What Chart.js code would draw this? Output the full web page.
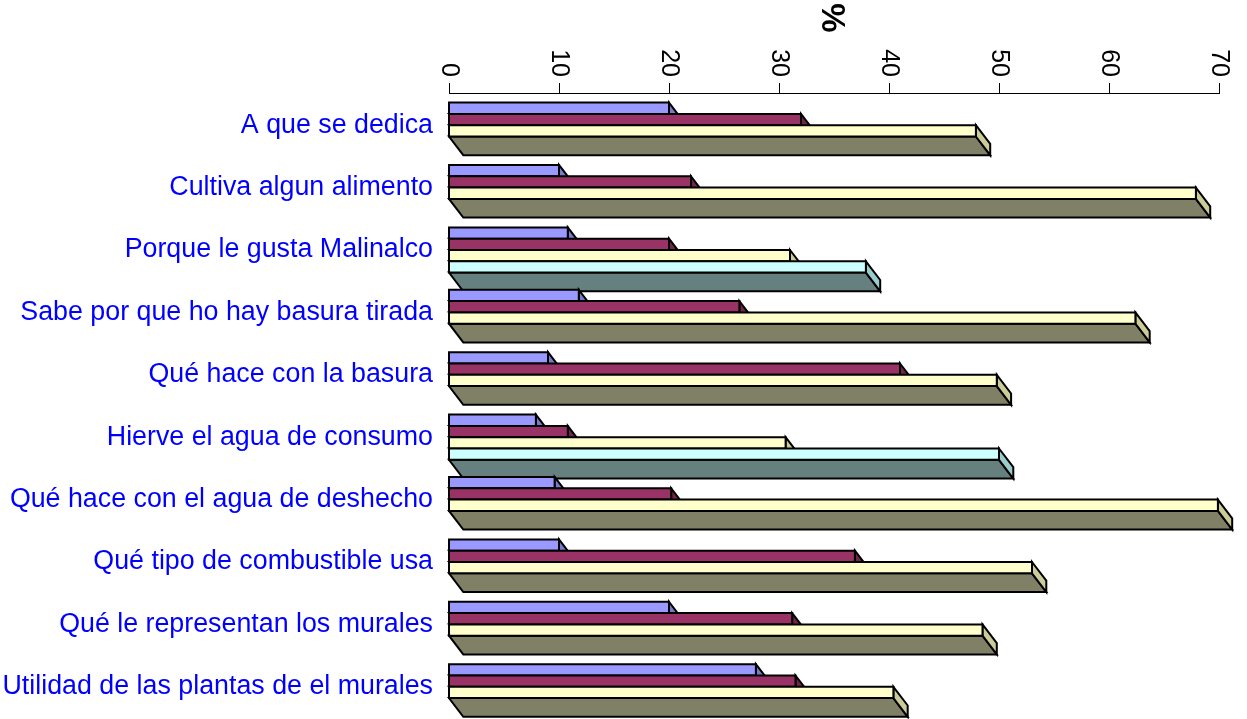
<!DOCTYPE html>
<html>
<head>
<meta charset="utf-8">
<script src="https://cdn.jsdelivr.net/npm/chart.js@4.4.1/dist/chart.umd.min.js"></script>
<style>
  html, body { margin: 0; padding: 0; background: #fff; overflow: hidden; }
  #wrap { width: 1247px; height: 719px; }
</style>
</head>
<body>
<div id="wrap"><canvas id="chart"></canvas></div>
<script>
// categorias y valores (%)
const categorias = [
    'A que se dedica',
    'Cultiva algun alimento',
    'Porque le gusta Malinalco',
    'Sabe por que ho hay basura tirada',
    'Qué hace con la basura',
    'Hierve el agua de consumo',
    'Qué hace con el agua de deshecho',
    'Qué tipo de combustible usa',
    'Qué le representan los murales',
    'Utilidad de las plantas de el murales'
];
const serie1 = [20, 10, 10.8, 11.8, 9, 7.9, 9.6, 10, 20, 27.9];
const serie2 = [32, 22, 20, 26.4, 41, 10.8, 20.2, 36.9, 31.2, 31.5];
const serie3 = [47.9, 67.9, 31, 62.4, 49.8, 30.6, 69.9, 53, 48.5, 40.4];
const serie4 = [null, null, 37.9, null, null, 50, null, null, null, null];
const ticksX = [0, 10, 20, 30, 40, 50, 60, 70];
const tituloX = '%';

// colores: frente, lado, fondo (profundidad)
const colores = [
    { front: '#9999FF', side: '#7A7ACC', bottom: '#4D4D80' },
    { front: '#993366', side: '#73264D', bottom: '#4D1A33' },
    { front: '#FFFFCC', side: '#CCCC99', bottom: '#808066' },
    { front: '#CCFFFF', side: '#99CCCC', bottom: '#668080' }
];

const FONT = "'Liberation Sans', Arial, Helvetica, sans-serif";
const DX = 14.3, DY = 18.7;   // profundidad 3D

const barras3D = {
    id: 'barras3D',
    afterDatasetsDraw(chart) {
        const ctx = chart.ctx;
        ctx.save();
        ctx.strokeStyle = '#000';
        ctx.lineWidth = 2;
        ctx.lineJoin = 'miter';
        const poly = (pts, fill) => {
            ctx.beginPath();
            ctx.moveTo(pts[0][0], pts[0][1]);
            for (let k = 1; k < pts.length; k++) ctx.lineTo(pts[k][0], pts[k][1]);
            ctx.closePath();
            ctx.fillStyle = fill;
            ctx.fill();
            ctx.stroke();
        };
        for (let i = 0; i < categorias.length; i++) {
            chart.data.datasets.forEach((ds, d) => {
                if (ds.data[i] === null) return;
                const el = chart.getDatasetMeta(d).data[i];
                const c = colores[d];
                const top = el.y - el.height / 2;
                const bot = el.y + el.height / 2;
                const x0 = el.base, x1 = el.x;
                // cara inferior
                poly([[x0, bot], [x1, bot], [x1 + DX, bot + DY], [x0 + DX, bot + DY]], c.bottom);
                // cara lateral
                poly([[x1, top], [x1 + DX, top + DY], [x1 + DX, bot + DY], [x1, bot]], c.side);
                // frente
                poly([[x0, top], [x1, top], [x1, bot], [x0, bot]], c.front);
            });
        }
        ctx.restore();
    },
    afterDraw(chart) {
        const ctx = chart.ctx;
        const sx = chart.scales.x;
        const area = chart.chartArea;
        ctx.save();
        // eje superior
        ctx.strokeStyle = '#000';
        ctx.lineWidth = 1;
        ctx.beginPath();
        ctx.moveTo(area.left, area.top - 0.5);
        ctx.lineTo(area.right, area.top - 0.5);
        ticksX.forEach(v => {
            const px = Math.round(sx.getPixelForValue(v)) + 0.5;
            ctx.moveTo(px, area.top);
            ctx.lineTo(px, area.top - 11);
        });
        ctx.stroke();
        // etiquetas rotadas
        ctx.fillStyle = '#000';
        ctx.font = '25px ' + FONT;
        ctx.textAlign = 'right';
        ctx.textBaseline = 'middle';
        ticksX.forEach(v => {
            const px = sx.getPixelForValue(v);
            ctx.save();
            ctx.translate(px, area.top - 17);
            ctx.rotate(Math.PI / 2);
            ctx.fillText(String(v), 0, 0);
            ctx.restore();
        });
        // titulo
        ctx.font = 'bold 33px ' + FONT;
        ctx.textAlign = 'center';
        ctx.save();
        ctx.translate((area.left + area.right) / 2 - 3, 18);
        ctx.rotate(Math.PI / 2);
        ctx.fillText(tituloX, 0, 0);
        ctx.restore();
        ctx.restore();
    }
};

new Chart(document.getElementById('chart'), {
    type: 'bar',
    data: {
        labels: categorias,
        datasets: [serie1, serie2, serie3, serie4].map(s => ({
            data: s,
            backgroundColor: 'rgba(0,0,0,0)',
            borderWidth: 0,
            barPercentage: 1,
            categoryPercentage: 0.725
        }))
    },
    options: {
        indexAxis: 'y',
        responsive: true,
        maintainAspectRatio: false,
        animation: false,
        layout: { padding: { top: 94, right: 28, bottom: 1, left: 0 } },
        plugins: { legend: { display: false }, tooltip: { enabled: false } },
        scales: {
            x: {
                display: false,
                min: 0,
                max: 70
            },
            y: {
                afterFit: s => {
                    s.width = 449;
                    s.paddingTop = 0;
                    s.paddingBottom = 0;
                },
                grid: { display: false },
                border: { display: false },
                ticks: {
                    color: '#0000FF',
                    padding: 8,
                    font: { family: FONT, size: 26.8 }
                }
            }
        }
    },
    plugins: [barras3D]
});
</script>
</body>
</html>
